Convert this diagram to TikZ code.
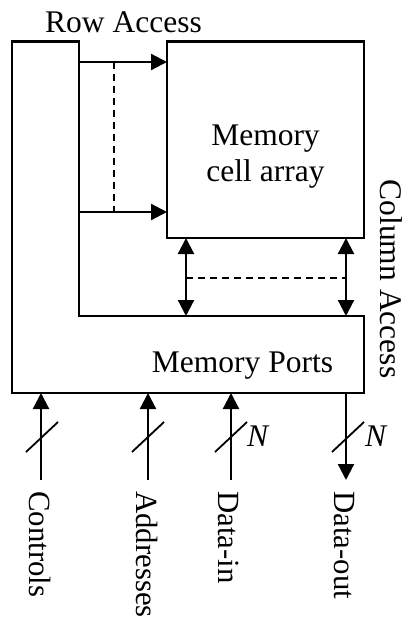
\documentclass[tikz,border=0pt]{standalone}
\usepackage{fontspec}
\setmainfont{Liberation Serif}
\usetikzlibrary{arrows.meta}
\begin{document}
\begin{tikzpicture}[x=1pt,y=-1pt,
  box/.style={line width=2.2pt},
  arr/.style={line width=2.2pt,-{Triangle[length=16pt,width=16pt]}},
  darr/.style={line width=2.2pt,{Triangle[length=16pt,width=16pt]}-{Triangle[length=16pt,width=16pt]}},
  dline/.style={line width=1.4pt,dash pattern=on 7pt off 5pt},
  slash/.style={line width=1.8pt},
  lbl/.style={font=\fontsize{31.5}{36}\selectfont,inner sep=0pt},
  vlbl/.style={font=\fontsize{30.8}{36}\selectfont,inner sep=0pt,rotate=-90,anchor=base west},
  nlbl/.style={font=\fontsize{31.5}{36}\selectfont\itshape,inner sep=0pt,anchor=base west}]
\useasboundingbox (0,0) rectangle (404,619);
% L-shaped outer block
\coordinate (o1) at (12,41.5);
\coordinate (o2) at (79,41.5);
\coordinate (o3) at (79,316);
\coordinate (o4) at (364,316);
\coordinate (o5) at (364,393);
\coordinate (o6) at (12,393);
\draw[box] (o1) -- (o2) -- (o3) -- (o4) -- (o5) -- (o6) -- cycle;
% memory cell array
\node[draw,box,minimum width=197pt,minimum height=196.5pt,inner sep=0pt] (mca) at (265.5,139.75) {};
\node[lbl,align=center] (mcat) at (265.5,157) {Memory\\cell array};
% labels
\node[lbl,anchor=base] (row) at (123.5,32) {Row Access};
\node[lbl,anchor=base] (ports) at (242.5,372.5) {Memory Ports};
\node[lbl,rotate=-90,anchor=base] (col) at (380.5,279) {Column Access};
% row access arrows
\coordinate (r1s) at (79,62);
\coordinate (r1e) at (167,62);
\coordinate (r2s) at (79,212);
\coordinate (r2e) at (167,212);
\draw[arr] (r1s) -- (r1e);
\draw[arr] (r2s) -- (r2e);
\coordinate (rd1) at (114,62);
\coordinate (rd2) at (114,212);
\draw[dline] (rd1) -- (rd2);
% column access arrows
\coordinate (c1t) at (186,238);
\coordinate (c1b) at (186,316);
\coordinate (c2t) at (346,238);
\coordinate (c2b) at (346,316);
\draw[darr] (c1b) -- (c1t);
\draw[darr] (c2b) -- (c2t);
\coordinate (cd1) at (186,278);
\coordinate (cd2) at (346,278);
\draw[dline] (cd1) -- (cd2);
% bottom ports
\coordinate (p1) at (41,393);
\coordinate (p2) at (148,393);
\coordinate (p3) at (231,393);
\coordinate (p4) at (346,393);
\coordinate (q1) at (41,480);
\coordinate (q2) at (148,480);
\coordinate (q3) at (231,480);
\coordinate (q4) at (346,480);
\draw[arr] (q1) -- (p1);
\draw[arr] (q2) -- (p2);
\draw[arr] (q3) -- (p3);
\draw[arr] (p4) -- (q4);
% slashes
\foreach \x [count=\i] in {42,148,231,348} {
  \coordinate (s\i a) at (\x-16,452);
  \coordinate (s\i b) at (\x+16,422);
  \draw[slash] (s\i a) -- (s\i b);
}
\node[nlbl] (n1) at (247,446) {N};
\node[nlbl] (n2) at (365,446) {N};
% bottom labels
\node[vlbl] (l1) at (29,491) {Controls};
\node[vlbl] (l2) at (136,491) {Addresses};
\node[vlbl] (l3) at (218,491) {Data-in};
\node[vlbl] (l4) at (334,491) {Data-out};
\end{tikzpicture}
\end{document}
